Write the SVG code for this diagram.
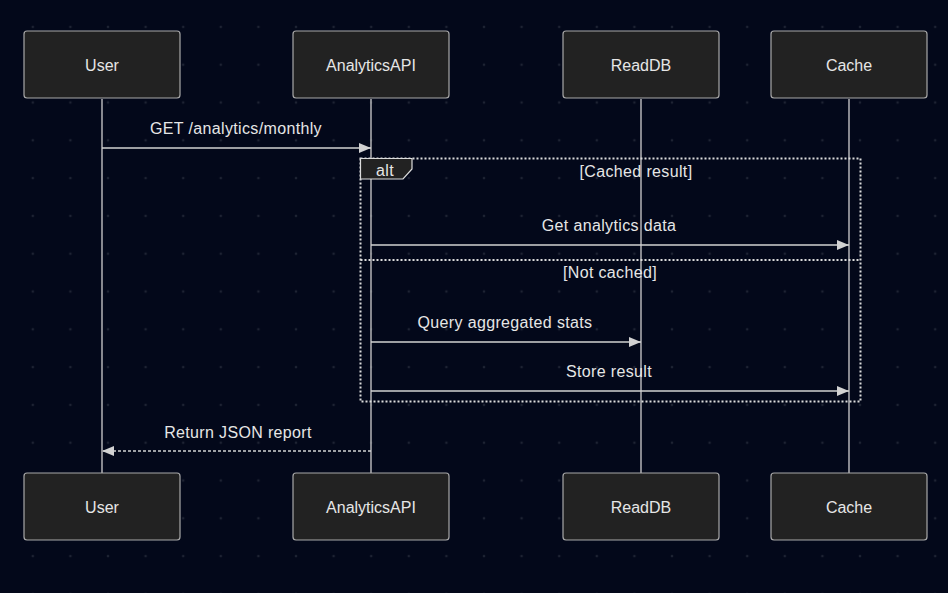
<svg xmlns="http://www.w3.org/2000/svg" width="948" height="593" viewBox="0 0 948 593">
<style>
.actor rect{fill:#222222;stroke:#a8a8a8;stroke-width:1.2}
text{font-family:"Liberation Sans",Arial,sans-serif;fill:#e6e6e6;text-anchor:middle}
.at{font-size:16px;dominant-baseline:central}
.msg{font-size:16px;letter-spacing:0.35px}
.life{stroke:#cfcfcf;stroke-width:1.3}
.ml{stroke:#d2d2d2;stroke-width:1.4;fill:none}
.frame{stroke:#dcdcdc;stroke-width:2;stroke-dasharray:2 2;fill:none}
</style>
<defs>
<pattern id="dots" x="14" y="8" width="37.6" height="37.8" patternUnits="userSpaceOnUse">
<circle cx="18.8" cy="18.9" r="1.3" fill="#1e2333"/>
</pattern>
<marker id="ah" viewBox="0 0 12 10" refX="12" refY="5" markerWidth="12" markerHeight="10" markerUnits="userSpaceOnUse" orient="auto">
<path d="M0,0 L12,5 L0,10 z" fill="#d2d2d2"/>
</marker>
</defs>
<rect width="948" height="593" fill="#03081a"/>
<rect width="948" height="593" fill="url(#dots)"/>
<g id="lifelines">
<line class="life" x1="102" y1="99" x2="102" y2="473"/>
<line class="life" x1="371" y1="99" x2="371" y2="473"/>
<line class="life" x1="641" y1="99" x2="641" y2="473"/>
<line class="life" x1="849" y1="99" x2="849" y2="473"/>
</g>
<g id="actor-user-top" class="actor"><rect x="24" y="31" width="156" height="67" rx="3"/><text class="at" x="102" y="65">User</text></g>
<g id="actor-api-top" class="actor"><rect x="293" y="31" width="156" height="67" rx="3"/><text class="at" x="371" y="65">AnalyticsAPI</text></g>
<g id="actor-readdb-top" class="actor"><rect x="563" y="31" width="156" height="67" rx="3"/><text class="at" x="641" y="65">ReadDB</text></g>
<g id="actor-cache-top" class="actor"><rect x="771" y="31" width="156" height="67" rx="3"/><text class="at" x="849" y="65">Cache</text></g>
<g id="actor-user-bottom" class="actor"><rect x="24" y="473" width="156" height="67" rx="3"/><text class="at" x="102" y="507">User</text></g>
<g id="actor-api-bottom" class="actor"><rect x="293" y="473" width="156" height="67" rx="3"/><text class="at" x="371" y="507">AnalyticsAPI</text></g>
<g id="actor-readdb-bottom" class="actor"><rect x="563" y="473" width="156" height="67" rx="3"/><text class="at" x="641" y="507">ReadDB</text></g>
<g id="actor-cache-bottom" class="actor"><rect x="771" y="473" width="156" height="67" rx="3"/><text class="at" x="849" y="507">Cache</text></g>
<g id="alt-frame">
<rect class="frame" x="360.5" y="158.5" width="500" height="243"/>
<line class="frame" x1="360.5" y1="260" x2="860.5" y2="260"/>
<path d="M360.5,158.5 H412 V169 L403,179 H360.5 Z" fill="#222222" stroke="#dcdcdc" stroke-width="1.2"/>
<text class="msg" x="385" y="175.5">alt</text>
<text class="msg" x="636" y="177">[Cached result]</text>
<text class="msg" x="610" y="278">[Not cached]</text>
</g>
<g id="connectors">
<line class="ml" x1="102" y1="148" x2="371" y2="148" marker-end="url(#ah)"/>
<text class="msg" x="236" y="134">GET /analytics/monthly</text>
<line class="ml" x1="371" y1="245" x2="849" y2="245" marker-end="url(#ah)"/>
<text class="msg" x="609" y="231">Get analytics data</text>
<line class="ml" x1="371" y1="342" x2="641" y2="342" marker-end="url(#ah)"/>
<text class="msg" x="505" y="328">Query aggregated stats</text>
<line class="ml" x1="371" y1="391" x2="849" y2="391" marker-end="url(#ah)"/>
<text class="msg" x="609" y="377">Store result</text>
<line class="ml" x1="371" y1="451" x2="102" y2="451" stroke-dasharray="3 2" marker-end="url(#ah)"/>
<text class="msg" x="238" y="438">Return JSON report</text>
</g>
</svg>
